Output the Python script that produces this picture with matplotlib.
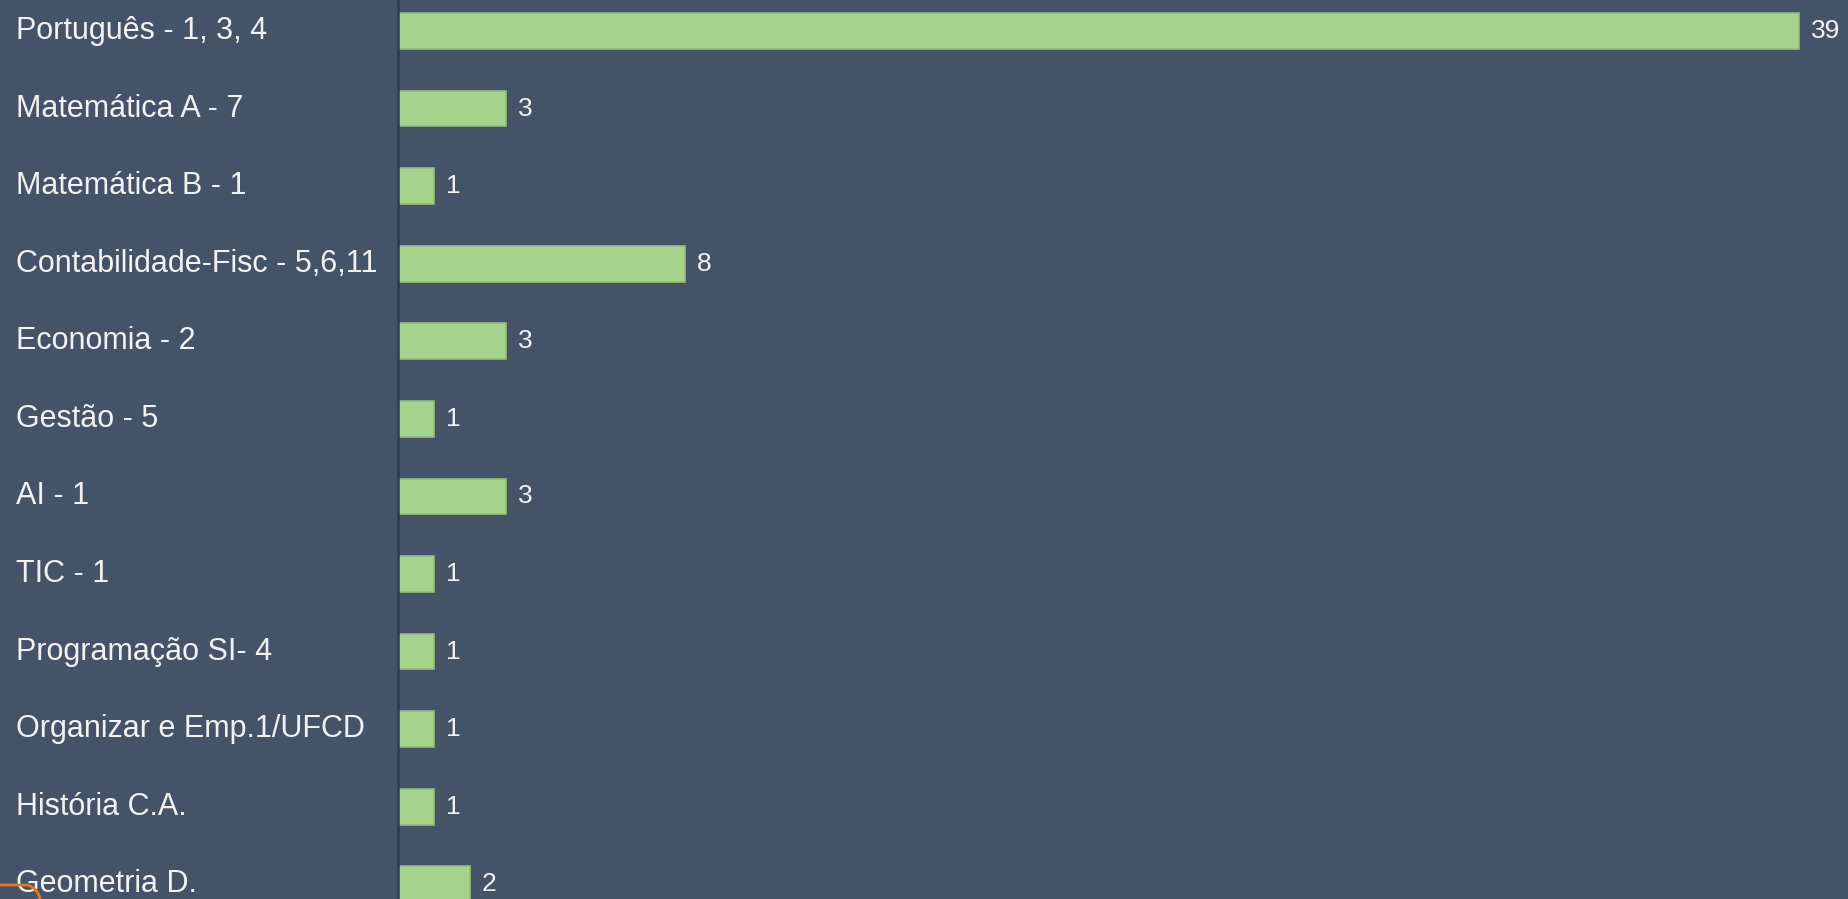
import matplotlib.pyplot as plt
from matplotlib.transforms import blended_transform_factory
from matplotlib.path import Path
from matplotlib.patches import PathPatch

# data
subjects = ['Português - 1, 3, 4', 'Matemática A - 7', 'Matemática B - 1',
            'Contabilidade-Fisc - 5,6,11', 'Economia - 2', 'Gestão - 5', 'AI - 1',
            'TIC - 1', 'Programação SI- 4', 'Organizar e Emp.1/UFCD',
            'História C.A.', 'Geometria D.']
counts = [39, 3, 1, 8, 3, 1, 3, 1, 1, 1, 1, 2]

bg = '#455369'
bar_color = '#a6d38b'
text_color = '#f2f2f2'

fig = plt.figure(figsize=(18.49, 8.99), dpi=100, facecolor=bg)
ax = fig.add_axes([398 / 1849, 0, 1 - 398 / 1849, 1])
ax.set_facecolor(bg)

ypos = list(range(len(subjects)))
ax.barh(ypos, counts, height=0.46, color=bar_color, edgecolor='#93bd7c', linewidth=1.2)

ax.set_xlim(0, 40.4)
ax.set_ylim(11.19, -0.40)

for y, v in zip(ypos, counts):
    ax.text(v + 0.33, y, str(v), color=text_color, fontsize=19,
            family='Liberation Sans', va='center', ha='left')

# category labels, left aligned near the figure edge
tr = blended_transform_factory(fig.transFigure, ax.transData)
for y, name in zip(ypos, subjects):
    ax.text(16 / 1849, y, name, transform=tr, color=text_color, fontsize=22,
            family='Liberation Sans', va='center', ha='left', clip_on=False)

ax.set_xticks([])
ax.set_yticks([])
for side in ['top', 'right', 'bottom']:
    ax.spines[side].set_visible(False)
ax.spines['left'].set_color('#2f3a4a')
ax.spines['left'].set_linewidth(1.8)

# small orange rounded corner at the lower-left (slide decoration)
verts = [(0, 14 / 899), (28 / 1849, 14 / 899),
         (38 / 1849, 10 / 899), (40 / 1849, 0)]
codes = [Path.MOVETO, Path.LINETO, Path.CURVE3, Path.CURVE3]
fig.add_artist(PathPatch(Path(verts, codes), transform=fig.transFigure,
                         fill=False, edgecolor='#e87722', linewidth=2))

fig.savefig('out.png', dpi=100, facecolor=bg)
